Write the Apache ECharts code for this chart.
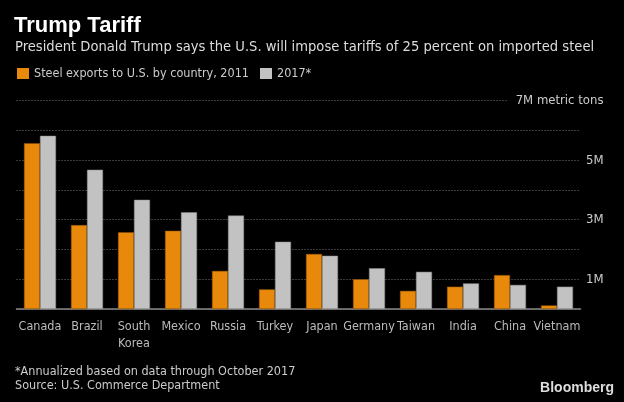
<!DOCTYPE html>
<html>
<head>
<meta charset="utf-8">
<script src="https://cdn.jsdelivr.net/npm/echarts@6/dist/echarts.min.js"></script>
<style>
html,body{margin:0;padding:0;background:#000;}
#c{width:624px;height:402px;}
</style>
</head>
<body>
<div id="c"></div>
<script>
const categories = ['Canada','Brazil','South\nKorea','Mexico','Russia','Turkey','Japan','Germany','Taiwan','India','China','Vietnam'];
const exports2011 = [5.57, 2.82, 2.58, 2.63, 1.28, 0.66, 1.85, 1.00, 0.61, 0.75, 1.14, 0.12];
const exports2017 = [5.82, 4.68, 3.67, 3.25, 3.14, 2.26, 1.79, 1.37, 1.25, 0.86, 0.81, 0.75];
const yTickLabels = {1: '1M', 3: '3M', 5: '5M', 7: '7M metric tons'};

const FONT = '"Liberation Sans Narrow", "DejaVu Sans Condensed", "Liberation Sans", sans-serif';
const chart = echarts.init(document.getElementById('c'));
chart.setOption({
  backgroundColor: '#000',
  animation: false,
  textStyle: {fontFamily: FONT},
  title: [
    {text: 'Trump Tariff', left: 14, top: 15, padding: 0, textStyle: {color: '#fff', fontSize: 22, fontWeight: 'bold', fontFamily: '"Liberation Sans", Arial, sans-serif'}},
    {text: 'President Donald Trump says the U.S. will impose tariffs of 25 percent on imported steel', left: 15, top: 40, padding: 0, textStyle: {color: '#ddd', fontSize: 14.6, fontWeight: 'normal', fontFamily: FONT}},
    {text: '*Annualized based on data through October 2017\nSource: U.S. Commerce Department', left: 15, top: 365, padding: 0, textStyle: {color: '#ccc', fontSize: 12.5, fontWeight: 'normal', lineHeight: 14, fontFamily: FONT}},
    {text: 'Bloomberg', right: 10, top: 381, padding: 0, textStyle: {color: '#ddd', fontSize: 14, fontWeight: 'bold', fontFamily: '"Liberation Sans", Arial, sans-serif'}}
  ],
  legend: {
    left: 17, top: 67, padding: 0, itemWidth: 12, itemHeight: 11, itemGap: 11, icon: 'rect',
    itemStyle: {borderWidth: 0},
    textStyle: {color: '#ccc', fontSize: 12.5, fontFamily: FONT},
    data: ['Steel exports to U.S. by country, 2011', '2017*']
  },
  grid: {left: 16.5, right: 43.5, top: 100.7, bottom: 93, containLabel: false},
  xAxis: {
    type: 'category', data: categories,
    axisLine: {lineStyle: {color: '#888', width: 1.5}},
    axisTick: {alignWithLabel: true, length: 5, lineStyle: {color: '#888'}},
    axisLabel: {color: '#bbb', fontSize: 12.5, margin: 9, lineHeight: 17, fontFamily: FONT, interval: 0}
  },
  yAxis: {
    type: 'value', position: 'right', min: 0, max: 7, interval: 1,
    axisLine: {show: false}, axisTick: {show: false},
    splitLine: {lineStyle: {color: '#777', type: [1, 2], width: 1}},
    axisLabel: {
      color: '#ccc', fontSize: 13, align: 'right', margin: 23, fontFamily: FONT,
      formatter: v => v === 7 ? '{a|' + yTickLabels[7] + '}' : (yTickLabels[v] || ''),
      rich: {a: {backgroundColor: '#000', padding: [3, 0, 3, 8], color: '#ccc', fontSize: 13, fontFamily: FONT}}
    }
  },
  series: [
    {name: 'Steel exports to U.S. by country, 2011', type: 'bar', data: exports2011, barWidth: 16, barGap: '0%',
     itemStyle: {color: '#E8890B', borderColor: '#8a5200', borderWidth: 0.5}},
    {name: '2017*', type: 'bar', data: exports2017, barWidth: 16,
     itemStyle: {color: '#C2C2C2', borderColor: '#888', borderWidth: 0.5}}
  ]
});
</script>
</body>
</html>
